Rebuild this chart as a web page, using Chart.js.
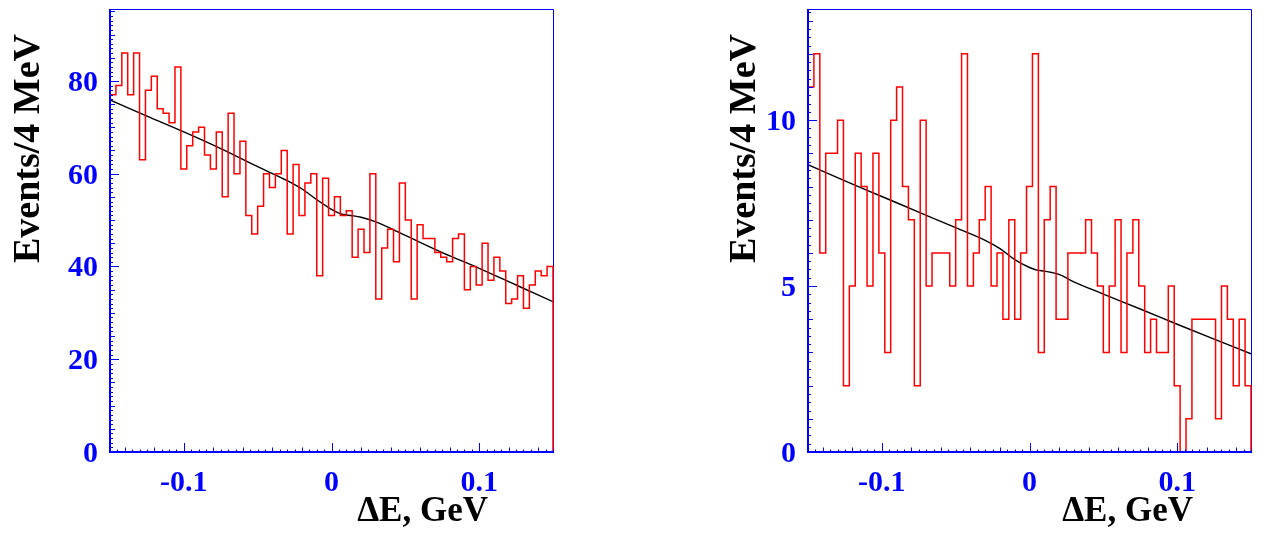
<!DOCTYPE html>
<html>
<head>
<meta charset="utf-8">
<script src="https://cdn.jsdelivr.net/npm/chart.js@4.4.1/dist/chart.umd.min.js"></script>
<style>
  html, body { margin: 0; padding: 0; background: #fff; }
  .panel { position: absolute; top: 0; width: 632px; height: 535px; }
  #leftBox { left: 0; }
  #rightBox { left: 632px; }
</style>
</head>
<body>
<div class="panel" id="leftBox"><canvas id="leftChart"></canvas></div>
<div class="panel" id="rightBox"><canvas id="rightChart"></canvas></div>
<script>
// ================================
// Data
// ================================

// histogram binning: 75 bins of 4 MeV from -0.15 to 0.15 GeV
const binLow = -0.15
const binWidth = 0.004

const leftCounts = [
  77, 79, 86, 77, 86, 63, 78, 81, 74, 73,
  71, 83, 61, 66, 69, 70, 64, 61, 69, 55,
  73, 60, 67, 51, 47, 53, 60, 57, 60, 65,
  47, 62, 51, 58, 60, 38, 59, 51, 55, 51,
  52, 42, 48, 43, 60, 33, 44, 48, 41, 58,
  50, 33, 49, 46, 46, 43, 42, 41, 46, 47,
  35, 40, 36, 45, 37, 42, 39, 32, 33, 38,
  31, 36, 39, 38, 40
]

const rightCounts = [
  11, 12, 6, 9, 9, 10, 2, 5, 9, 8,
  5, 9, 6, 3, 10, 11, 8, 7, 2, 10,
  5, 6, 6, 6, 5, 7, 12, 5, 6, 7,
  8, 5, 6, 4, 7, 4, 6, 8, 12, 3,
  7, 8, 4, 4, 6, 6, 6, 7, 6, 5,
  3, 5, 7, 3, 6, 7, 5, 3, 4, 3,
  3, 5, 2, 0, 1, 4, 4, 4, 4, 1,
  5, 4, 2, 4, 2
]

// fit curves
const fitX = [-0.15, -0.125, -0.1, -0.075, -0.05, -0.03, -0.02, -0.01, 0, 0.005, 0.01, 0.015, 0.02, 0.03, 0.05, 0.075, 0.1, 0.125, 0.15]
const leftFit = [75.9, 72.4, 69.0, 65.4, 61.5, 58.5, 56.7, 54.4, 52.3, 51.5, 51.1, 50.9, 50.6, 49.6, 46.7, 43.0, 39.6, 36.0, 32.4]
const rightFit = [8.66, 8.17, 7.70, 7.23, 6.76, 6.38, 6.13, 5.80, 5.56, 5.48, 5.45, 5.41, 5.35, 5.13, 4.76, 4.31, 3.85, 3.40, 2.96]

// axes
const xTickValues = [-0.1, 0, 0.1]
const xTickLabels = ["-0.1", "0", "0.1"]
const leftYTicks = [0, 20, 40, 60, 80]
const rightYTicks = [0, 5, 10]

const xTitle = "\u0394E, GeV"
const yTitle = "Events/4 MeV"

// ================================
// Helpers
// ================================

const axisBlue = "#0000ff"
const serif = "'Liberation Serif', 'Times New Roman', serif"

function histPoints(counts) {
  // step outline: start and end on zero like ROOT does
  let pts = [{ x: binLow, y: 0 }]
  counts.forEach((c, i) => pts.push({ x: binLow + i * binWidth, y: c }))
  let hi = binLow + counts.length * binWidth
  pts.push({ x: hi, y: counts[counts.length - 1] })
  pts.push({ x: hi, y: 0 })
  return pts
}

function fitPoints(ys) {
  return fitX.map((x, i) => ({ x: x, y: ys[i] }))
}

function ticksBetween(min, max, step) {
  let out = []
  let start = Math.ceil(min / step - 1e-6)
  for (let k = start; k * step <= max + 1e-9; k++) out.push(k * step)
  return out
}

// frame, inward ticks, labels and titles
function axesPlugin(cfg) {
  return {
    id: "rootAxes",
    beforeDatasetsDraw(chart) {
      const { ctx, chartArea: a } = chart
      ctx.save()
      ctx.strokeStyle = axisBlue
      ctx.lineWidth = 1
      ctx.beginPath()
      ctx.moveTo(a.left, a.top + 0.5)
      ctx.lineTo(a.right + 0.5, a.top + 0.5)
      ctx.lineTo(a.right + 0.5, a.bottom)
      ctx.stroke()
      ctx.restore()
    },
    afterDatasetsDraw(chart) {
      const { ctx, chartArea: a, scales } = chart
      const xs = scales.x, ys = scales.y
      ctx.save()
      ctx.strokeStyle = axisBlue
      ctx.lineWidth = 2
      ctx.beginPath()
      ctx.moveTo(a.left, a.top)
      ctx.lineTo(a.left, a.bottom)
      ctx.lineTo(a.right + 1, a.bottom)
      ctx.stroke()

      // x ticks (pointing up into the frame)
      ctx.lineWidth = 1
      ctx.beginPath()
      ticksBetween(xs.min, xs.max, 0.005).forEach(v => {
        let len = 2.5
        if (Math.abs(v / 0.02 - Math.round(v / 0.02)) < 1e-6) len = 4.5
        if (Math.abs(v / 0.1 - Math.round(v / 0.1)) < 1e-6) len = 9
        let px = Math.round(xs.getPixelForValue(v)) + 0.5
        ctx.moveTo(px, a.bottom)
        ctx.lineTo(px, a.bottom - len)
      })
      // y ticks (pointing right into the frame)
      ticksBetween(ys.min, ys.max, cfg.yMinor).forEach(v => {
        let len = 3
        if (Math.abs(v / cfg.yMedium - Math.round(v / cfg.yMedium)) < 1e-6) len = 5
        if (Math.abs(v / cfg.yMajor - Math.round(v / cfg.yMajor)) < 1e-6) len = 9
        let py = Math.round(ys.getPixelForValue(v)) + 0.5
        ctx.moveTo(a.left, py)
        ctx.lineTo(a.left + len, py)
      })
      ctx.stroke()

      // tick labels
      ctx.fillStyle = axisBlue
      ctx.font = "bold 30px " + serif
      ctx.textBaseline = "alphabetic"
      ctx.textAlign = "right"
      cfg.yTicks.forEach(v => {
        ctx.fillText(String(v), a.left - 12, ys.getPixelForValue(v) + 10)
      })
      ctx.textAlign = "center"
      xTickValues.forEach((v, i) => {
        ctx.fillText(xTickLabels[i], xs.getPixelForValue(v), a.bottom + 39)
      })

      // titles
      ctx.fillStyle = "#000"
      ctx.font = "bold 35px " + serif
      ctx.textAlign = "right"
      ctx.fillText(xTitle, a.right - cfg.xTitleInset, a.bottom + 69)

      ctx.font = "bold 38px " + serif
      ctx.translate(cfg.yTitleX, a.top + 25)
      ctx.rotate(-Math.PI / 2)
      ctx.textAlign = "right"
      ctx.fillText(yTitle, 0, 0)
      ctx.restore()
    }
  }
}

function drawPanel(canvasId, counts, fit, yMax, padding, cfg) {
  return new Chart(document.getElementById(canvasId), {
    type: "line",
    data: {
      datasets: [
        {
          data: histPoints(counts),
          stepped: true,
          borderColor: "#ff0000",
          borderWidth: 1.5,
          pointRadius: 0,
          fill: false,
          clip: 3
        },
        {
          data: fitPoints(fit),
          cubicInterpolationMode: "monotone",
          borderColor: "#000000",
          borderWidth: 1.4,
          pointRadius: 0,
          fill: false
        }
      ]
    },
    options: {
      responsive: true,
      maintainAspectRatio: false,
      animation: false,
      layout: { padding: padding },
      plugins: {
        legend: { display: false },
        tooltip: { enabled: false }
      },
      scales: {
        x: { type: "linear", min: -0.15, max: 0.15, display: false },
        y: { type: "linear", min: 0, max: yMax, display: false }
      }
    },
    plugins: [axesPlugin(cfg)]
  })
}

// ================================
// Charts
// ================================

drawPanel("leftChart", leftCounts, leftFit, 95.5,
  { left: 110, top: 9, right: 79, bottom: 83 },
  { yTicks: leftYTicks, yMajor: 20, yMedium: 5, yMinor: 1, yTitleX: 39, xTitleInset: 65 })

drawPanel("rightChart", rightCounts, rightFit, 13.35,
  { left: 176, top: 9, right: 13, bottom: 83 },
  { yTicks: rightYTicks, yMajor: 5, yMedium: 1, yMinor: 0.25, yTitleX: 123, xTitleInset: 58 })
</script>
</body>
</html>
